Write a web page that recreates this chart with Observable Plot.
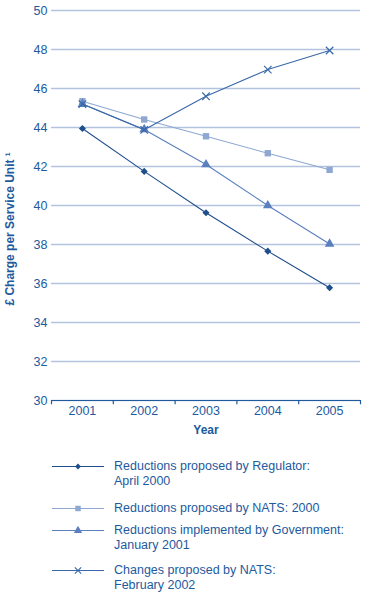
<!DOCTYPE html>
<html><head><meta charset="utf-8">
<script src="https://cdn.jsdelivr.net/npm/d3@7"></script>
<script src="https://cdn.jsdelivr.net/npm/@observablehq/plot@0.6"></script>
<style>
body{margin:0;background:#fff;font-family:"Liberation Sans",Arial,sans-serif;}
#wrap{width:366px;position:relative;}
.leg{display:flex;align-items:flex-start;color:#1d5a9e;font-size:12.5px;line-height:15px;}
.leg svg{flex:none;margin-left:52px;margin-right:10px;}
</style></head>
<body><div id="wrap"></div>
<script>
const years = [2001, 2002, 2003, 2004, 2005];
const regulator = [43.95, 41.75, 39.63, 37.66, 35.78];
const nats2000 = [45.35, 44.41, 43.55, 42.68, 41.83];
const government = [45.2, 43.9, 42.1, 40.0, 38.03];
const nats2002 = [45.2, 43.88, 45.6, 46.97, 47.95];
const seriesNames = [
  "Reductions proposed by Regulator: April 2000",
  "Reductions proposed by NATS: 2000",
  "Reductions implemented by Government: January 2001",
  "Changes proposed by NATS: February 2002"
];
const legendLines = [
  ["Reductions proposed by Regulator:", "April 2000"],
  ["Reductions proposed by NATS: 2000"],
  ["Reductions implemented by Government:", "January 2001"],
  ["Changes proposed by NATS:", "February 2002"]
];
const yTicks = [30, 32, 34, 36, 38, 40, 42, 44, 46, 48, 50];
const colors = ["#1f4e8c", "#8ea8d2", "#5a7fbf", "#3a68a8"];
const symbols = ["diamond2", "square", "triangle", "times"];
const values = [regulator, nats2000, government, nats2002];

const data = [];
values.forEach((vals, i) => vals.forEach((v, j) => data.push({series: seriesNames[i], idx: i, year: years[j], value: v})));
const boundaries = d3.range(years[0] - 0.5, years[years.length - 1] + 1, 1);
const txt = "#1d5a9e";

const marks = [
  Plot.ruleY(yTicks, {stroke: "#b3c2de", strokeWidth: 1.3}),
  Plot.ruleY([30], {stroke: "#1f5a9e", strokeWidth: 1.2}),
  Plot.ruleX(boundaries, {y1: 30, y2: 29.78, stroke: "#1f5a9e", strokeWidth: 1.2}),
  Plot.axisY(yTicks, {tickSize: 0, tickPadding: 4, fontSize: 12.5, fill: txt, label: null}),
  Plot.axisX(years, {tickSize: 0, tickPadding: 6, fontSize: 12.5, fill: txt, label: null, tickFormat: d => String(d)}),
  Plot.text(["£ Charge per Service Unit ¹"], {frameAnchor: "left", y: 38.8, dx: -41, rotate: -90, textAnchor: "middle", fontWeight: "bold", fontSize: 12, fill: txt}),
  Plot.text(["Year"], {x: 2003, frameAnchor: "bottom", dy: 33, fontWeight: "bold", fontSize: 12, fill: txt})
];
values.forEach((vals, i) => {
  const d = data.filter(r => r.idx === i);
  marks.push(Plot.line(d, {x: "year", y: "value", stroke: colors[i], strokeWidth: 1.1}));
  marks.push(Plot.dot(d, {x: "year", y: "value", symbol: () => symbols[i], r: i === 3 ? 3.5 : (i === 0 ? 3.2 : 3.6),
    fill: i === 3 ? "none" : colors[i], stroke: colors[i], strokeWidth: i === 3 ? 1.2 : 0}));
});

const chart = Plot.plot({
  width: 366, height: 440,
  marginLeft: 51, marginRight: 6, marginTop: 10, marginBottom: 40,
  x: {type: "linear", domain: [2000.5, 2005.5], axis: null},
  y: {domain: [30, 50], axis: null},
  style: {fontFamily: "'Liberation Sans', Arial, sans-serif", background: "#fff"},
  marks
});
const wrap = document.getElementById("wrap");
wrap.appendChild(chart);

const leg = document.createElement("div");
leg.style.paddingTop = "19px";
const gaps = [0, 12, 7, 10];
legendLines.forEach((lines, i) => {
  const row = document.createElement("div");
  row.className = "leg";
  row.style.marginTop = gaps[i] + "px";
  const s = d3.create("svg").attr("width", 52).attr("height", 15);
  s.append("line").attr("x1", 0).attr("x2", 52).attr("y1", 7.5).attr("y2", 7.5).attr("stroke", colors[i]).attr("stroke-width", 1.1);
  const sym = {diamond2: d3.symbolDiamond2, square: d3.symbolSquare, triangle: d3.symbolTriangle, times: d3.symbolTimes}[symbols[i]];
  const size = i === 0 ? 22 : (i === 3 ? 28 : 30);
  s.append("path").attr("transform", "translate(26,7.5)").attr("d", d3.symbol(sym, size)())
    .attr("fill", i === 3 ? "none" : colors[i]).attr("stroke", i === 3 ? colors[i] : "none").attr("stroke-width", 1.1);
  row.appendChild(s.node());
  const t = document.createElement("div");
  t.innerHTML = lines.join("<br>");
  row.appendChild(t);
  leg.appendChild(row);
});
wrap.appendChild(leg);
</script></body></html>
